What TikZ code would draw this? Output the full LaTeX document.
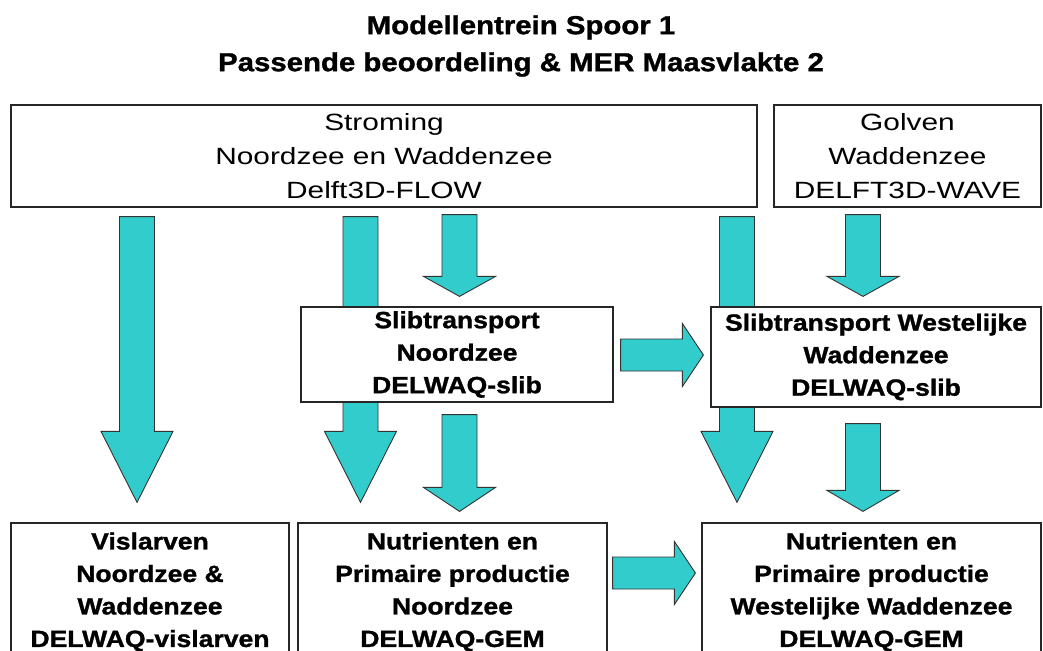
\documentclass[tikz,border=0pt]{standalone}
\usepackage{fontspec}
\setmainfont{Liberation Sans}[FakeStretch=1.27]
\newfontfamily\heavyfont{Liberation Sans}[FakeStretch=1.13,BoldFeatures={FakeBold=1.2}]
\usetikzlibrary{calc,backgrounds}
\definecolor{flowteal}{RGB}{51,204,204}

% block arrow downwards: x, from node, to node, top gap, tip gap, head length
\newcommand{\vflow}[6]{%
  \path (#1,0 |- #2.south) ++(0,#4) coordinate (vtop)
        (#1,0 |- #3.north) ++(0,-#5) coordinate (vtip);
  \filldraw[flow] ($(vtop)+(-17.5,0)$) -- ($(vtip)+(-17.5,-#6)$) -- ($(vtip)+(-36,-#6)$)
    -- (vtip) -- ($(vtip)+(36,-#6)$) -- ($(vtip)+(17.5,-#6)$) -- ($(vtop)+(17.5,0)$) -- cycle;}
% block arrow to the right: y, from node, to node, left gap, tip gap
\newcommand{\hflow}[5]{%
  \path (#2.east |- 0,#1) ++(#4,0) coordinate (hleft)
        (#3.west |- 0,#1) ++(-#5,0) coordinate (htip);
  \filldraw[flow] ($(hleft)+(0,-16)$) -- ($(htip)+(-21,-16)$) -- ($(htip)+(-21,-31.5)$)
    -- (htip) -- ($(htip)+(-21,31.5)$) -- ($(htip)+(-21,16)$) -- ($(hleft)+(0,16)$) -- cycle;}

\begin{document}
\begin{tikzpicture}[x=1pt,y=-1pt,line join=miter,
    box/.style={draw=black!85,line width=1.2pt,fill=white,inner sep=0pt,align=center,
      font=\fontsize{23.5}{34}\selectfont},
    boldbox/.style={box,font=\heavyfont\bfseries\fontsize{23.5}{32.5}\selectfont},
    flow/.style={fill=flowteal,draw=black!80,line width=0.9pt}]
  \useasboundingbox (0,0) rectangle (1043,650);
  \clip (0,0) rectangle (1043,650);

  \node[align=center,font=\heavyfont\bfseries\fontsize{26}{37}\selectfont] (title) at (521,46)
    {Modellentrein Spoor 1\\Passende beoordeling \& MER Maasvlakte 2};

  % models
  \node[box,minimum width=746pt,minimum height=102pt] (stroming) at (384,156)
    {Stroming\\Noordzee en Waddenzee\\Delft3D-FLOW};
  \node[box,minimum width=267pt,minimum height=102pt] (golven) at (907.5,156)
    {Golven\\Waddenzee\\DELFT3D-WAVE};
  \node[boldbox,minimum width=312pt,minimum height=95pt] (slibnz) at (457,354.5)
    {Slibtransport\\Noordzee\\DELWAQ-slib};
  \node[boldbox,minimum width=330pt,minimum height=100pt] (slibww) at (876,357)
    {Slibtransport Westelijke\\Waddenzee\\DELWAQ-slib};
  \node[boldbox,minimum width=278pt,minimum height=138pt] (vislarven) at (150,592)
    {Vislarven\\Noordzee \&\\Waddenzee\\DELWAQ-vislarven};
  \node[boldbox,minimum width=309pt,minimum height=138pt] (nutrnz) at (452.5,592)
    {Nutrienten en\\Primaire productie\\Noordzee\\DELWAQ-GEM};
  \node[boldbox,minimum width=339pt,minimum height=138pt] (nutrww) at (871.5,592)
    {Nutrienten en\\Primaire productie\\Westelijke Waddenzee\\DELWAQ-GEM};

  % flows, behind the boxes
  \begin{pgfonlayer}{background}
    \vflow{137}{stroming}{vislarven}{9}{20}{71}
    \vflow{360.5}{stroming}{nutrnz}{9}{20}{71}
    \vflow{459.5}{stroming}{slibnz}{7}{10}{20}
    \vflow{737}{stroming}{nutrww}{9}{20}{71}
    \vflow{863}{golven}{slibww}{7}{10}{20}
    \vflow{459.5}{slibnz}{nutrnz}{12}{11}{24}
    \vflow{863}{slibww}{nutrww}{16}{11}{21}
    \hflow{355}{slibnz}{slibww}{7}{7}
    \hflow{573}{nutrnz}{nutrww}{5}{6}
  \end{pgfonlayer}
\end{tikzpicture}
\end{document}
